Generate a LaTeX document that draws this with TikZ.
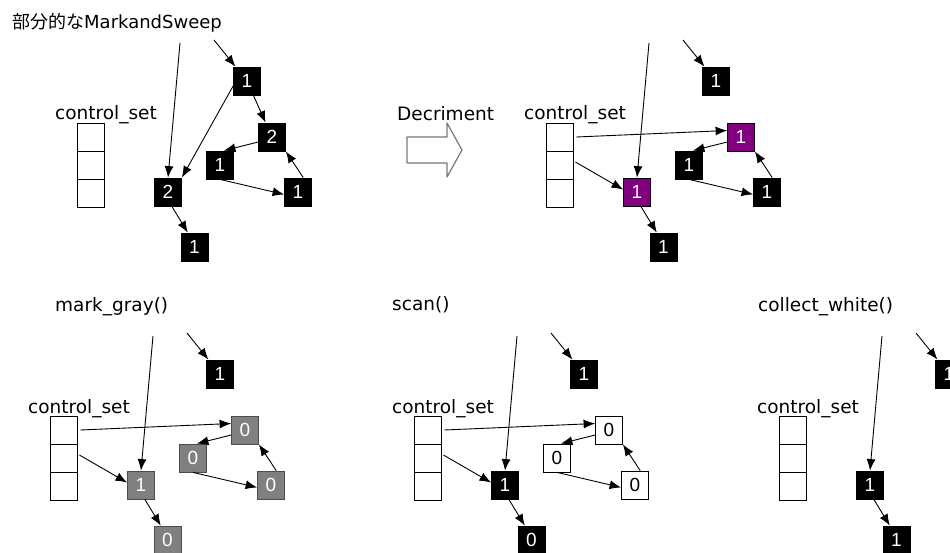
\documentclass[tikz,border=0pt]{standalone}
\usepackage{fontspec}
\setmainfont{DejaVu Sans}
\newfontfamily\cjkfont{Noto Sans CJK JP}
\newfontfamily\digitfont{Liberation Sans}
\usetikzlibrary{arrows.meta}
\definecolor{objpurple}{RGB}{128,0,128}
\definecolor{objgray}{RGB}{128,128,128}
\definecolor{bigarrow}{RGB}{120,120,120}
\tikzset{
  obj/.style={draw=black, line width=0.8pt, minimum width=27pt, minimum height=28pt, inner sep=0pt, font=\digitfont\fontsize{19}{19}\selectfont},
  blk/.style={obj, fill=black, text=white},
  prp/.style={obj, fill=objpurple, text=white},
  gry/.style={obj, fill=objgray, draw=black!70, text=white},
  wht/.style={obj, fill=white, text=black},
  cellbox/.style={draw=black, line width=0.8pt, minimum width=27pt, minimum height=28pt, inner sep=0pt},
  lbl/.style={anchor=base west, inner sep=0pt, font=\fontsize{18.5}{20}\selectfont},
  ptr/.style={line width=0.9pt, -{Latex[length=11.5pt,width=9pt]}},
}
\newcommand{\ctrlset}[3]{%
  \node[lbl] (#1lbl) at (#2-22,#3-3) {control\_set};
  \node[cellbox] (#1c1) at (#2+13.5,#3+14) {};
  \node[cellbox] (#1c2) at (#2+13.5,#3+42) {};
  \node[cellbox] (#1c3) at (#2+13.5,#3+70) {};
}
\begin{document}
\begin{tikzpicture}[x=1pt,y=-1pt]
\clip (0,0) rectangle (950,553);
\fill[white] (0,0) rectangle (950,553);

% ---------- Panel 1 ----------
\node[anchor=base west, inner sep=0pt, font=\fontsize{18}{20}\selectfont] (title) at (12,29) {\cjkfont 部分的な\normalfont MarkandSweep};
\ctrlset{pa}{77}{123}
\coordinate (pas1) at (180,43);
\coordinate (pas2) at (214,40);
\node[blk] (paM) at (168,192) {2};
\node[blk] (paB) at (194.5,247) {1};
\node[blk] (paT) at (247,81) {1};
\node[blk] (paR) at (272,137) {2};
\node[blk] (paL) at (220,165) {1};
\node[blk] (paQ) at (298,192) {1};
\draw[ptr] (pas1) -- (paM.north);
\draw[ptr] (pas2) -- (paT);
\draw[ptr] (paT.200) -- (paM.north east);
\draw[ptr] (paT) -- (paR);
\draw[ptr] (paR.200) -- (paL.75);
\draw[ptr] (paL.south) -- (paQ.190);
\draw[ptr] (paQ.70) -- (paR.south east);
\draw[ptr] (paM.-75) -- (paB.115);

% ---------- Decriment arrow ----------
\node[lbl] (declbl) at (397,121) {Decriment};
\draw[bigarrow, line width=1.2pt, line join=round]
  (407,137) -- (447,137) -- (447,123) -- (462,150) -- (447,177) -- (447,163) -- (407,163) -- cycle;

% ---------- Panel 2 ----------
\ctrlset{pb}{546}{123}
\coordinate (pbs1) at (649,43);
\coordinate (pbs2) at (683,40);
\node[prp] (pbM) at (637,192) {1};
\node[blk] (pbB) at (663.5,247) {1};
\node[blk] (pbT) at (716,81) {1};
\node[prp] (pbR) at (741,137) {1};
\node[blk] (pbL) at (689,165) {1};
\node[blk] (pbQ) at (767,192) {1};
\draw[ptr] (pbs1) -- (pbM.north);
\draw[ptr] (pbs2) -- (pbT);
\draw[ptr] ([xshift=3pt]pbc1.east) -- (pbR.155);
\draw[ptr] ([xshift=2pt,yshift=3pt]pbc2.east) -- (pbM.170);
\draw[ptr] (pbR.200) -- (pbL.75);
\draw[ptr] (pbL.south) -- (pbQ.190);
\draw[ptr] (pbQ.70) -- (pbR.south east);
\draw[ptr] (pbM.-75) -- (pbB.115);

% ---------- Panel 3 ----------
\node[lbl] (mglbl) at (55,311) {mark\_gray()};
\ctrlset{pc}{50}{416}
\coordinate (pcs1) at (153,336);
\coordinate (pcs2) at (187,333);
\node[gry] (pcM) at (141,485) {1};
\node[gry] (pcB) at (167.5,540) {0};
\node[blk] (pcT) at (220,374) {1};
\node[gry] (pcR) at (245,430) {0};
\node[gry] (pcL) at (193,458) {0};
\node[gry] (pcQ) at (271,485) {0};
\draw[ptr] (pcs1) -- (pcM.north);
\draw[ptr] (pcs2) -- (pcT);
\draw[ptr] ([xshift=3pt]pcc1.east) -- (pcR.155);
\draw[ptr] ([xshift=2pt,yshift=3pt]pcc2.east) -- (pcM.170);
\draw[ptr] (pcR.200) -- (pcL.75);
\draw[ptr] (pcL.south) -- (pcQ.190);
\draw[ptr] (pcQ.70) -- (pcR.south east);
\draw[ptr] (pcM.-75) -- (pcB.115);

% ---------- Panel 4 ----------
\node[lbl] (sclbl) at (392,310) {scan()};
\ctrlset{pd}{414}{416}
\coordinate (pds1) at (517,336);
\coordinate (pds2) at (551,333);
\node[blk] (pdM) at (505,485) {1};
\node[blk] (pdB) at (531.5,540) {0};
\node[blk] (pdT) at (584,374) {1};
\node[wht] (pdR) at (609,430) {0};
\node[wht] (pdL) at (557,458) {0};
\node[wht] (pdQ) at (635,485) {0};
\draw[ptr] (pds1) -- (pdM.north);
\draw[ptr] (pds2) -- (pdT);
\draw[ptr] ([xshift=3pt]pdc1.east) -- (pdR.155);
\draw[ptr] ([xshift=2pt,yshift=3pt]pdc2.east) -- (pdM.170);
\draw[ptr] (pdR.200) -- (pdL.75);
\draw[ptr] (pdL.south) -- (pdQ.190);
\draw[ptr] (pdQ.70) -- (pdR.south east);
\draw[ptr] (pdM.-75) -- (pdB.115);

% ---------- Panel 5 ----------
\node[lbl] (cwlbl) at (758,311) {collect\_white()};
\ctrlset{pe}{779}{416}
\coordinate (pes1) at (882,336);
\coordinate (pes2) at (916,333);
\node[blk] (peM) at (870,485) {1};
\node[blk] (peB) at (896.5,540) {1};
\node[blk] (peT) at (949,374) {1};
\draw[ptr] (pes1) -- (peM.north);
\draw[ptr] (pes2) -- (peT);
\draw[ptr] (peM.-75) -- (peB.115);
\end{tikzpicture}
\end{document}
